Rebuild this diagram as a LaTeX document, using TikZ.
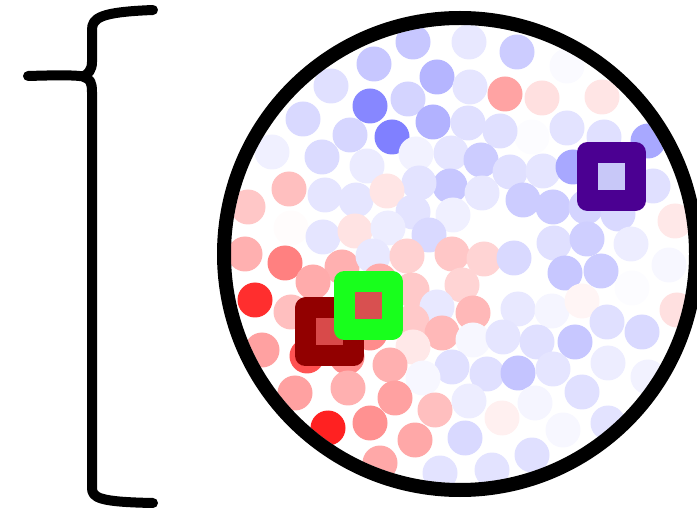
\documentclass[tikz,border=0pt]{standalone}
\begin{document}
\begin{tikzpicture}[x=1pt,y=-1pt,
  dot/.style={fill=#1,draw=none},
  marker/.style={draw=#1,line width=21pt,line join=round,minimum size=48pt,inner sep=0pt,outer sep=0pt},
  bracestroke/.style={line width=10pt,line cap=round,line join=round}]
\useasboundingbox (0,0) rectangle (697,513);
\definecolor{mkpurple}{HTML}{4B0092}
\definecolor{mkdark}{HTML}{920000}
\definecolor{mkgreen}{HTML}{18FF1C}
\definecolor{inred}{HTML}{D84A4A}
\definecolor{ingreen}{HTML}{D85050}
\definecolor{inpurple}{HTML}{C8C8F8}
% brace
\draw[bracestroke] (153,10) .. controls (100,12) and (92,18) .. (92,30) -- (92,62)
  .. controls (92,70) and (88,74) .. (84,76);
\draw[bracestroke] (28,76) .. controls (60,75) and (78,75) .. (86,77);
\draw[bracestroke] (84,77) .. controls (90,79) and (92,82) .. (92,92) -- (92,488)
  .. controls (92,498) and (100,502) .. (153,503);
% dots
\begin{scope}
\clip (460,254) circle (229);
\foreach \x/\y/\c in {
433/277/white, 497/292/white, 536/282/white, 632/288/blue!1, 532/137/blue!1,
413/42/blue!22, 469/42/blue!9, 517/52/blue!20, 567/66/blue!2, 374/64/blue!22,
437/77/blue!29, 470/87/blue!10, 505/94/red!36, 542/98/red!12, 602/97/red!10,
331/86/blue!12, 408/99/blue!17, 370/106/blue!47, 303/119/blue!15, 433/122/blue!30,
468/123/blue!12, 500/131/blue!12, 567/128/blue!11, 604/137/blue!12,
648/141/blue!34, 350/135/blue!16, 392/137/blue!50, 272/152/blue!6, 322/157/blue!14,
367/166/blue!8, 416/154/blue!5, 451/153/blue!10, 481/160/blue!20, 510/172/blue!12,
543/171/blue!10, 573/167/blue!34, 653/186/blue!12, 450/186/blue!22, 419/183/blue!11,
482/193/blue!9, 523/200/blue!20, 553/207/blue!20, 586/207/blue!17, 618/214/blue!15,
675/221/red!9, 289/189/red!25, 325/195/blue!10, 356/200/blue!10, 387/191/red!10,
248/207/red!22, 413/212/blue!11, 453/215/blue!6, 291/228/red!1, 323/237/blue!10,
355/231/red!11, 388/228/blue!7, 429/235/blue!15, 554/243/blue!12, 587/239/blue!19,
631/244/blue!7, 245/254/red!31, 285/263/red!50, 342/267/red!31, 373/256/blue!9,
407/256/red!18, 452/254/red!22, 484/259/red!17, 514/258/blue!15, 669/265/blue!3,
313/282/red!33, 380/281/red!33, 412/290/red!21, 462/285/red!17,
565/273/blue!22, 601/271/blue!20,
255/300/red!82, 291/312/red!25, 437/307/blue!9, 473/313/red!28, 518/309/blue!9,
552/311/blue!4, 582/301/red!4, 607/322/blue!12, 642/332/blue!15, 677/310/red!12,
412/322/red!21, 442/333/red!28, 473/340/blue!3, 503/337/blue!10, 537/342/blue!12,
575/342/blue!22, 413/347/red!9, 262/350/red!37, 307/356/red!68, 347/357/red!45,
370/333/red!45, 390/365/red!31, 452/367/blue!12, 487/374/blue!12, 518/373/blue!23,
553/369/blue!10, 608/363/blue!7, 648/377/blue!5, 423/378/blue!3, 295/393/red!37,
348/388/red!31, 395/398/red!37, 435/410/red!25, 469/401/blue!7, 502/418/red!6,
535/403/blue!4, 582/392/blue!12, 328/428/red!87, 370/423/red!43, 415/440/red!34,
465/438/blue!15, 563/430/blue!3, 608/423/blue!11, 380/463/red!34, 440/473/blue!11,
492/470/blue!11, 532/455/blue!12}
  \fill[dot=\c] (\x,\y) circle (17.5);
\end{scope}
% outer circle
\draw[line width=14pt] (460,254) circle (236);
% markers
\node[marker=mkdark,fill=inred] (mdark) at (329.5,332) {};
\node[marker=mkgreen,fill=ingreen] (mgreen) at (368,305.5) {};
\node[marker=mkpurple,fill=inpurple] (mpurple) at (611.5,176.5) {};
\end{tikzpicture}
\end{document}
